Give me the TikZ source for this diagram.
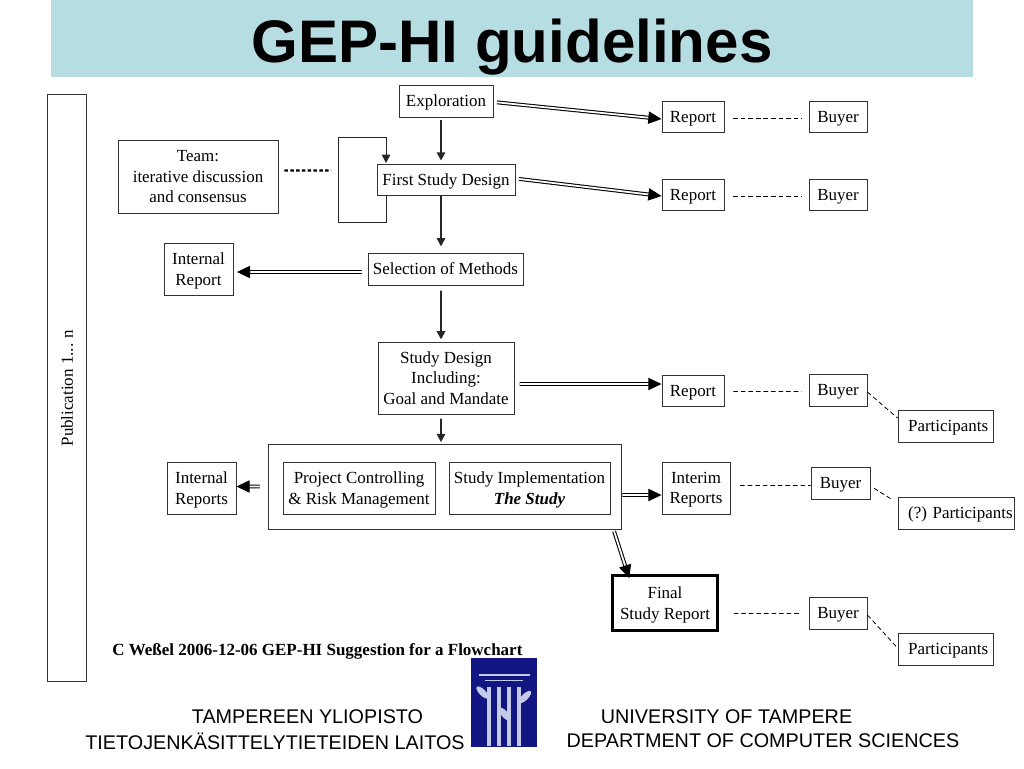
\documentclass[tikz,border=0pt]{standalone}
\usepackage{fontspec}
\setmainfont{Liberation Serif}
\newfontfamily\arialfont{Liberation Sans}
\definecolor{gepband}{RGB}{182,221,226}
\definecolor{gepnavy}{RGB}{18,22,130}
\definecolor{gepleaf}{RGB}{196,202,232}
\usetikzlibrary{arrows.meta,positioning,calc}
\tikzset{
  box/.style={draw=black!80, line width=0.55pt, inner sep=0pt, align=center, text depth=-1.4pt, font=\fontsize{9.65}{11.7}\selectfont},
  flow/.style={-{Triangle[length=4.7pt,width=4.8pt]}, line width=0.9pt, black!85},
  dbl/.style={-{Triangle[length=7.5pt,width=7pt]}, double=white, double distance=1pt, line width=0.6pt, black},
  dashline/.style={dash pattern=on 2.6pt off 1.7pt, line width=0.45pt, black},
  foot/.style={font=\arialfont\fontsize{11.26}{13.6}\selectfont, inner sep=0pt}
}
\begin{document}
\begin{tikzpicture}[x=0.02cm,y=-0.02cm]
  \useasboundingbox (0,0) rectangle (1024,768);

  % Title band
  \fill[gepband] (51,0) rectangle (973,77);
  \node[font=\arialfont\bfseries\fontsize{34.2}{38}\selectfont, inner sep=0pt] (title) at (512,47) {GEP-HI guidelines};

  % Publication bar
  \node[box, rotate=90, minimum width=11.76cm, minimum height=0.78cm] (pub) at (66.5,388) {\raisebox{-0.7pt}{Publication 1... n}};

  % Main column
  \node[box, minimum width=1.88cm, minimum height=0.64cm] (expl) at (446,101) {Exploration};
  \node[box, minimum width=2.76cm, minimum height=0.62cm] (first) at (446,179.5) {First Study Design};
  \node[box, minimum width=3.10cm, minimum height=0.64cm] (select) at (445.5,269) {Selection of Methods};
  \node[box, minimum width=2.72cm, minimum height=1.44cm] (design) at (446,378) {Study Design\\Including:\\Goal and Mandate};

  % Study block
  \node[box, minimum width=7.08cm, minimum height=1.70cm] (block) at (445,486.5) {};
  \node[box, minimum width=3.04cm, minimum height=1.04cm] (control) at (359,488) {Project Controlling\\\& Risk Management};
  \node[box, minimum width=3.22cm, minimum height=1.04cm] (impl) at (529.5,488) {Study Implementation\\\textbf{\textit{The Study}}};
  \node[box, line width=1.5pt, draw=black, minimum width=2.10cm, minimum height=1.10cm] (final) at (665,603) {Final\\Study Report};

  % Left column
  \node[box, minimum width=3.20cm, minimum height=1.46cm] (team) at (198,176.5) {Team:\\iterative discussion\\and consensus};
  \node[box, minimum width=1.38cm, minimum height=1.04cm] (intrep) at (198.5,269) {Internal\\Report};
  \node[box, minimum width=1.38cm, minimum height=1.04cm] (intreps) at (201.5,488) {Internal\\Reports};

  % Reports
  \node[box, minimum width=1.24cm, minimum height=0.62cm] (rep1) at (693,116.5) {Report};
  \node[box, minimum width=1.24cm, minimum height=0.62cm] (rep2) at (693,194.5) {Report};
  \node[box, minimum width=1.24cm, minimum height=0.62cm] (rep3) at (693,390.5) {Report};
  \node[box, minimum width=1.36cm, minimum height=1.04cm] (interim) at (696,488) {Interim\\Reports};

  % Buyers
  \node[box, minimum width=1.16cm, minimum height=0.62cm] (buy1) at (838,116.5) {Buyer};
  \node[box, minimum width=1.16cm, minimum height=0.62cm] (buy2) at (838,194.5) {Buyer};
  \node[box, minimum width=1.16cm, minimum height=0.64cm] (buy3) at (838,390) {Buyer};
  \node[box, minimum width=1.18cm, minimum height=0.64cm] (buy4) at (840.5,483) {Buyer};
  \node[box, minimum width=1.16cm, minimum height=0.64cm] (buy5) at (838,613) {Buyer};

  % Participants
  \node[box, minimum width=1.90cm, minimum height=0.64cm] (part1) at (945.5,426) {\hspace*{3pt}Participants};
  \node[box, minimum width=2.32cm, minimum height=0.64cm] (part2) at (956,513) {\hspace*{5pt}(?) Participants};
  \node[box, minimum width=1.90cm, minimum height=0.64cm] (part3) at (945.5,649) {\hspace*{3pt}Participants};

  % Single arrows
  \draw[flow, shorten <=1.4pt, shorten >=1.7pt] ([xshift=-0.1cm]expl.south) -- ([xshift=-0.1cm]first.north);
  \draw[flow, shorten >=3.5pt] ([xshift=-0.1cm]first.south) -- ([xshift=-0.09cm]select.north);
  \draw[flow, shorten <=2.9pt, shorten >=1.2pt] ([xshift=-0.09cm]select.south) -- ([xshift=-0.1cm]design.north);
  \draw[flow, shorten <=2.3pt, shorten >=0.8pt] ([xshift=-0.1cm]design.south) -- ([xshift=-0.08cm]block.north);

  % Feedback loop
  \coordinate (loopin) at (386,163);
  \coordinate (loopout) at (386,195);
  \draw[flow, line width=0.55pt] (loopout) -- (386,222) -- (338,222) -- (338,137) -- (386,137) -- (loopin);

  % Team link
  \coordinate (teamend) at (331,170.5);
  \draw[line width=1.4pt, dash pattern=on 2pt off 1.3pt, black] ([xshift=0.12cm,yshift=0.12cm]team.east) -- (teamend);

  % Double arrows
  \draw[dbl, shorten <=2pt] ([yshift=-0.02cm]expl.east) -- ([yshift=-0.05cm]rep1.west);
  \draw[dbl, shorten <=2pt] ([yshift=0.02cm]first.east) -- ([yshift=-0.03cm]rep2.west);
  \draw[dbl, shorten <=3pt] ([yshift=-0.12cm]design.east) -- ([yshift=0.13cm]rep3.west);
  \draw[dbl, shorten <=3pt, shorten >=2pt] ([yshift=-0.06cm]select.west) -- ([yshift=-0.06cm]intrep.east);
  \draw[dbl] ([xshift=-0.16cm]block.west) -- ([yshift=0.03cm]intreps.east);
  \draw[dbl] ([yshift=-0.17cm]block.east) -- ([yshift=-0.14cm]interim.west);
  \draw[dbl, shorten <=1pt] (613.5,529.5) coordinate (blockout) -- ($(final.north west)+(18,4)$);

  % Dashed links
  \foreach \a/\b in {rep1/buy1, rep2/buy2} {
    \draw[dashline, shorten <=5pt, shorten >=4pt] ([yshift=-0.03cm]\a.east) -- ([yshift=-0.03cm]\b.west);
  }
  \draw[dashline, shorten <=5pt, shorten >=4pt] ([yshift=-0.02cm]rep3.east) -- ([yshift=-0.03cm]buy3.west);
  \draw[dashline, shorten <=8.5pt, shorten >=4pt] ([yshift=-0.21cm]final.east) -- ([yshift=-0.01cm]buy5.west);
  \draw[dashline, shorten <=5.5pt] ([yshift=0.05cm]interim.east) -- ([yshift=-0.05cm]buy4.west);
  \draw[dashline] ([yshift=-0.04cm]buy3.east) -- ([yshift=0.16cm]part1.west);
  \draw[dashline, shorten <=2.3pt, shorten >=4.5pt] ([yshift=-0.06cm]buy4.east) -- ([yshift=0.2cm]part2.west);
  \draw[dashline] ([yshift=-0.04cm]buy5.east) -- ([yshift=0.02cm]part3.west);

  % Credit line
  \node[font=\fontsize{9.67}{11}\selectfont\bfseries, inner sep=0pt, anchor=west] (credit) at (112,651.5) {C Weßel 2006-12-06 GEP-HI Suggestion for a Flowchart};

  % Footer
  \node[foot] (fi1) at (307.5,717) {TAMPEREEN YLIOPISTO};
  \node[foot] (fi2) at (275,741) {TIETOJENKÄSITTELYTIETEIDEN LAITOS};
  \node[foot] (en1) at (726.5,717) {UNIVERSITY OF TAMPERE};
  \node[foot] (en2) at (763,741) {DEPARTMENT OF COMPUTER SCIENCES};

  % Logo
  \fill[gepnavy] (471,658) rectangle (537,747);
  \draw[gepleaf, line width=1.1pt] (478.5,675) -- (530,675);
  \draw[gepleaf, line width=1.1pt] (485,680.5) -- (523,680.5);
  \foreach \x in {489,499,509,519} {
    \draw[gepleaf, line width=2.2pt] (\x,687) -- (\x,746);
  }
  \fill[gepleaf] (482.5,692.5) ellipse [x radius=8, y radius=3.2, rotate=-45];
  \fill[gepleaf] (525,697) ellipse [x radius=8, y radius=3.2, rotate=45];
  \fill[gepleaf] (504.5,714) ellipse [x radius=8, y radius=3.2, rotate=-50];
\end{tikzpicture}
\end{document}
